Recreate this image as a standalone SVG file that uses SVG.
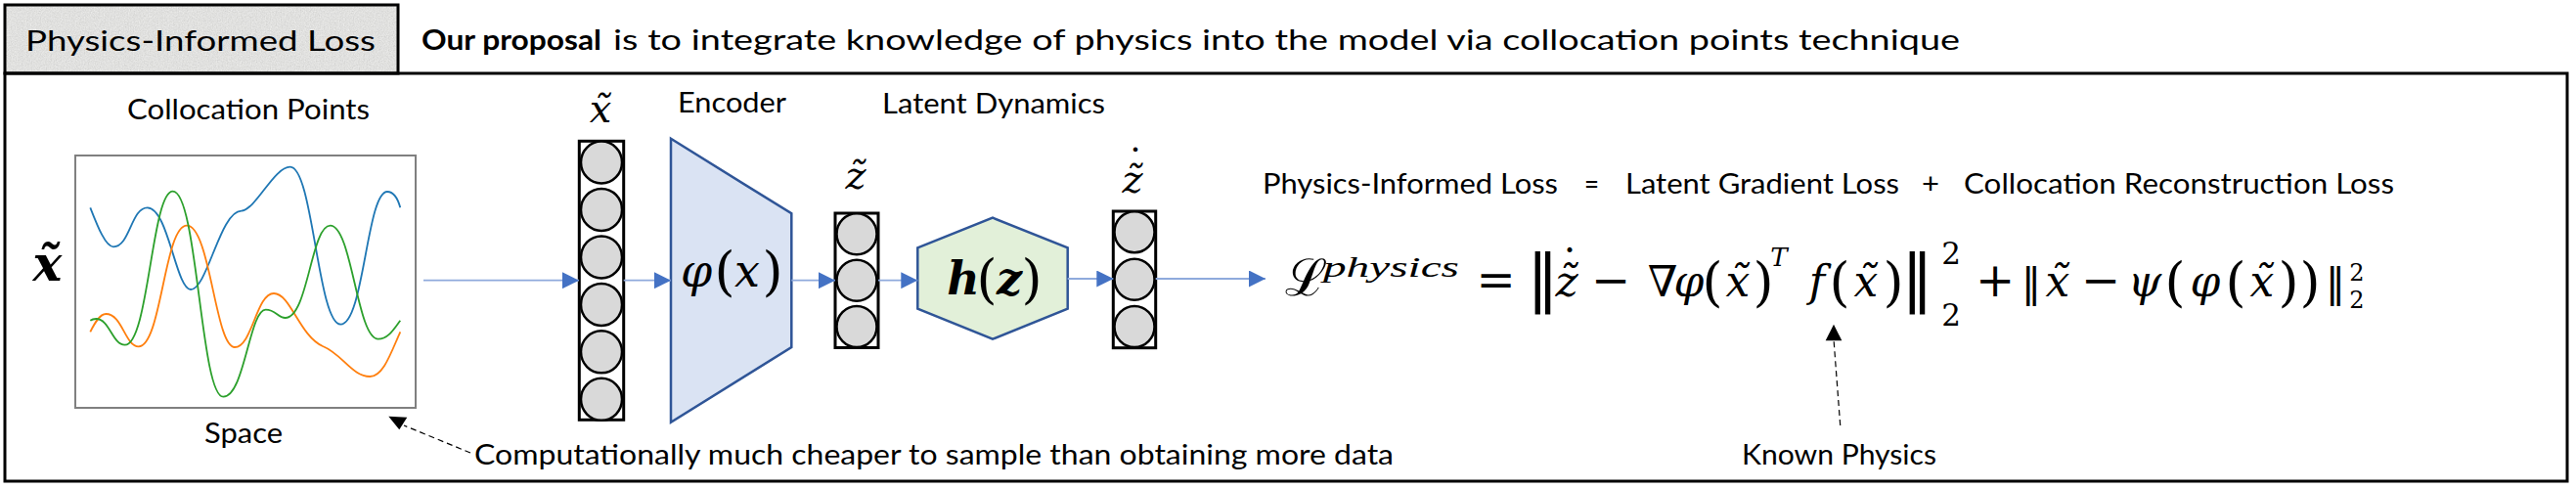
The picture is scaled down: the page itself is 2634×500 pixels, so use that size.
<svg xmlns="http://www.w3.org/2000/svg" width="2634" height="500" viewBox="0 0 2634 500">
<defs>
<style>
.t{font-family:"Lato","Open Sans","Liberation Sans",sans-serif;font-size:29px;fill:#000}
.m{font-family:"DejaVu Serif","Liberation Serif",serif;fill:#000}
.ms{font-family:"Liberation Serif","DejaVu Serif",serif;fill:#000}
.i{font-style:italic}
.bar{font-family:"DejaVu Sans","Liberation Sans",sans-serif}
.col{fill:#fff;stroke:#000;stroke-width:3}
.cir{fill:#d9d9d9;stroke:#000;stroke-width:2.5}
.flow{stroke:#8faadc;stroke-width:1.8;fill:none}
.dash{stroke:#000;stroke-width:1.2;stroke-dasharray:6 4;fill:none}
.curve{fill:none;stroke-width:1.8}
</style>
<filter id="noise" x="0" y="0" width="100%" height="100%">
<feTurbulence type="fractalNoise" baseFrequency="0.8" numOctaves="2" seed="3"/>
<feColorMatrix type="matrix" values="0.33 0.33 0.33 0 0.2  0.33 0.33 0.33 0 0.2  0.33 0.33 0.33 0 0.2  0 0 0 0 0.45"/>
</filter>
<marker id="ah" markerUnits="userSpaceOnUse" markerWidth="17" markerHeight="17" viewBox="0 0 16 16" refX="16" refY="8" orient="auto">
<path d="M0,0 L16,8 L0,16 z" fill="#4472c4"/>
</marker>
</defs>
<rect width="2634" height="500" fill="#fff"/>

<g id="title">
<rect x="5" y="5" width="402" height="70" fill="#e6e6e3"/>
<rect x="5" y="5" width="402" height="70" filter="url(#noise)"/>
<rect x="5" y="5" width="402" height="70" fill="none" stroke="#000" stroke-width="3"/>
<text class="t" x="26" y="52" font-size="35" textLength="358" lengthAdjust="spacingAndGlyphs">Physics-Informed Loss</text>
</g>
<g id="subtitle">
<text class="t" x="431" y="51" font-weight="bold" textLength="184" lengthAdjust="spacingAndGlyphs">Our proposal</text>
<text class="t" x="627" y="51" textLength="1377" lengthAdjust="spacingAndGlyphs">is to integrate knowledge of physics into the model via collocation points technique</text>
</g>
<rect id="frame" x="5" y="75" width="2620" height="417" fill="none" stroke="#000" stroke-width="3"/>

<g id="collocation">
<text class="t" x="130" y="122" font-size="31" textLength="248" lengthAdjust="spacingAndGlyphs">Collocation Points</text>
<rect x="77" y="159" width="348" height="258" fill="#fff" stroke="#808080" stroke-width="2"/>
<path class="curve" stroke="#1f77b4" d="M92.3,212.3 C100,232 108,252.3 116,252.3 C133,252.3 134,212.3 150.7,212.3 C172,212.3 180,296 195,296 C212,296 225,216 246.7,215.7 C262,214 280,170.7 296.7,170.7 C320,170.7 325,331.7 348.3,331.7 C372,331.7 375,196 396,196 C403,196 407,204 409.3,212.3"/>
<path class="curve" stroke="#ff7f0e" d="M92.3,339.3 C97,330 102,321 108.3,321 C125,321 128,354.3 141.7,354.3 C165,354.3 168,230.7 191,230.7 C215,230.7 220,355 240,355 C258,355 262,300 280,300 C297,300 306,343 330,354 C350,362 360,385 378.3,385 C392,385 400,360 409.3,339.3"/>
<path class="curve" stroke="#2ca02c" d="M92.3,327.7 C94,326.5 96,326 98.3,326 C112,326 115,352.7 127.7,352.7 C152,352.7 155,195.7 176.7,195.7 C202,195.7 205,405.7 228.3,405.7 C250,405.7 255,316.7 271.7,316.7 C282,316.7 284,325 291.7,325 C315,325 318,230.7 337.7,230.7 C360,230.7 365,346.7 386.7,346.7 C397,346.7 403,336 409.3,327.7"/>
<text class="t" x="209" y="453" font-size="31" textLength="80" lengthAdjust="spacingAndGlyphs">Space</text>
<text class="m i" x="48.5" y="287" font-size="50" font-weight="bold" text-anchor="middle">x̃</text>
</g>

<g id="col-x">
<rect class="col" x="592.3" y="144.3" width="45.4" height="285"/>
<ellipse class="cir" cx="615" cy="166" rx="21" ry="21.5"/>
<ellipse class="cir" cx="615" cy="214.4" rx="21" ry="21.5"/>
<ellipse class="cir" cx="615" cy="262.9" rx="21" ry="21.5"/>
<ellipse class="cir" cx="615" cy="311.4" rx="21" ry="21.5"/>
<ellipse class="cir" cx="615" cy="359.8" rx="21" ry="21.5"/>
<ellipse class="cir" cx="615" cy="408.3" rx="21" ry="21.5"/>
<text class="m i" x="614" y="125" font-size="40" text-anchor="middle">x̃</text>
</g>

<g id="encoder">
<text class="t" x="693" y="115" font-size="31" textLength="111" lengthAdjust="spacingAndGlyphs">Encoder</text>
<polygon points="686,141.7 809.3,218.3 809.3,355 686,431.7" fill="#dae3f3" stroke="#2f5597" stroke-width="2.5"/>
<text class="m" font-size="46" text-anchor="middle"><tspan class="i" x="712" y="293">φ</tspan><tspan x="741" y="296" font-size="54">(</tspan><tspan class="i" x="764" y="293">x</tspan><tspan x="790" y="296" font-size="54">)</tspan></text>
</g>

<g id="col-z">
<rect class="col" x="854" y="218" width="44" height="137.5"/>
<ellipse class="cir" cx="876" cy="239.3" rx="20.5" ry="21"/>
<ellipse class="cir" cx="876" cy="286.7" rx="20.5" ry="21"/>
<ellipse class="cir" cx="876" cy="334" rx="20.5" ry="21"/>
<text class="m i" x="875" y="193" font-size="40" text-anchor="middle">z̃</text>
</g>

<g id="dynamics">
<text class="t" x="902" y="116" font-size="31" textLength="228" lengthAdjust="spacingAndGlyphs">Latent Dynamics</text>
<polygon points="938.3,253.3 1015,222.7 1091.7,253.3 1091.7,315.7 1015,346.7 938.3,315.7" fill="#e2f0d9" stroke="#2f5597" stroke-width="2.5"/>
<text class="m" font-size="46" text-anchor="middle"><tspan class="i" font-weight="bold" x="985" y="301">h</tspan><tspan x="1009" y="304" font-size="54">(</tspan><tspan class="i" font-weight="bold" x="1032" y="301">z</tspan><tspan x="1055" y="304" font-size="54">)</tspan></text>
</g>

<g id="col-zdot">
<rect class="col" x="1138.3" y="216" width="43.4" height="139.7"/>
<ellipse class="cir" cx="1160" cy="237.3" rx="20.5" ry="21"/>
<ellipse class="cir" cx="1160" cy="285.7" rx="20.5" ry="21"/>
<ellipse class="cir" cx="1160" cy="334" rx="20.5" ry="21"/>
<text class="m" font-size="40" text-anchor="middle"><tspan class="i" x="1158" y="197">z̃</tspan><tspan x="1161" y="181">˙</tspan></text>
</g>

<g id="connectors">
<line class="flow" x1="433" y1="286.7" x2="592" y2="286.7" marker-end="url(#ah)"/>
<line class="flow" x1="637.7" y1="286.7" x2="686" y2="286.7" marker-end="url(#ah)"/>
<line class="flow" x1="809.3" y1="286.7" x2="854" y2="286.7" marker-end="url(#ah)"/>
<line class="flow" x1="898" y1="286.7" x2="938.3" y2="286.7" marker-end="url(#ah)"/>
<line class="flow" x1="1091.7" y1="285" x2="1138.3" y2="285" marker-end="url(#ah)"/>
<line class="flow" x1="1181.7" y1="285" x2="1294" y2="285" marker-end="url(#ah)"/>
<line class="dash" x1="481" y1="463" x2="413" y2="435"/>
<polygon points="397.3,425.7 416.3,426.7 408.3,439.3" fill="#000"/>
<line class="dash" x1="1881.7" y1="435" x2="1875" y2="347"/>
<polygon points="1875,331.7 1866.7,348.3 1883.3,348.3" fill="#000"/>
</g>

<g id="loss-text">
<text class="t" x="1291" y="198" font-size="28" textLength="302" lengthAdjust="spacingAndGlyphs">Physics-Informed Loss</text>
<text class="t" x="1620" y="198" font-size="28" textLength="15" lengthAdjust="spacingAndGlyphs">=</text>
<text class="t" x="1662" y="198" font-size="28" textLength="280" lengthAdjust="spacingAndGlyphs">Latent Gradient Loss</text>
<text class="t" x="1965" y="198" font-size="28" textLength="18" lengthAdjust="spacingAndGlyphs">+</text>
<text class="t" x="2008" y="198" font-size="28" textLength="440" lengthAdjust="spacingAndGlyphs">Collocation Reconstruction Loss</text>
</g>

<g id="formula">
<text class="ms" x="1335" y="302" font-size="52" text-anchor="middle">ℒ</text>
<text class="ms i" x="1353" y="283" font-size="30" textLength="139" lengthAdjust="spacingAndGlyphs">physics</text>
<text class="m" font-size="44" text-anchor="middle"><tspan x="1529.5" y="303" font-size="48">=</tspan><tspan class="bar" x="1577.5" y="306" font-size="64">‖</tspan><tspan class="i" x="1602" y="303">z̃</tspan><tspan x="1605" y="287">˙</tspan><tspan x="1647" y="303" font-size="48">−</tspan><tspan x="1700" y="303">∇</tspan><tspan class="i" x="1727" y="303">φ</tspan><tspan x="1751" y="307" font-size="54">(</tspan><tspan class="i" x="1777" y="303">x̃</tspan><tspan x="1803" y="307" font-size="54">)</tspan><tspan class="i" x="1819" y="272" font-size="26">T</tspan><tspan class="i" x="1858" y="303">f</tspan><tspan x="1881" y="307" font-size="54">(</tspan><tspan class="i" x="1908" y="303">x̃</tspan><tspan x="1936" y="307" font-size="54">)</tspan><tspan class="bar" x="1960.5" y="306" font-size="64">‖</tspan><tspan x="1995" y="270" font-size="31">2</tspan><tspan x="1995" y="333" font-size="31">2</tspan><tspan x="2040" y="303" font-size="48">+</tspan><tspan class="bar" x="2077" y="303" font-size="40">‖</tspan><tspan class="i" x="2104" y="303">x̃</tspan><tspan x="2148" y="303" font-size="48">−</tspan><tspan class="i" x="2193" y="303">ψ</tspan><tspan x="2224" y="307" font-size="54">(</tspan><tspan class="i" x="2255" y="303">φ</tspan><tspan x="2286" y="307" font-size="54">(</tspan><tspan class="i" x="2313" y="303">x̃</tspan><tspan x="2340" y="307" font-size="54">)</tspan><tspan x="2362" y="307" font-size="54">)</tspan><tspan class="bar" x="2388" y="303" font-size="40">‖</tspan><tspan x="2410" y="287" font-size="24">2</tspan><tspan x="2410" y="315" font-size="24">2</tspan></text>
</g>

<g id="notes">
<text class="t" x="485" y="475" font-size="28" textLength="940" lengthAdjust="spacingAndGlyphs">Computationally much cheaper to sample than obtaining more data</text>
<text class="t" x="1781" y="475" font-size="28" textLength="199" lengthAdjust="spacingAndGlyphs">Known Physics</text>
</g>
</svg>
